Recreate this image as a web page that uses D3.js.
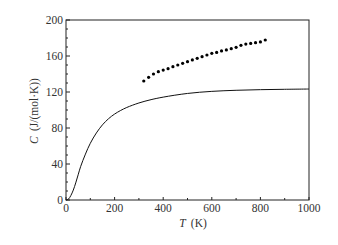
<!DOCTYPE html>
<html><head><meta charset="utf-8">
<script src="https://cdn.jsdelivr.net/npm/d3@7"></script>
<style>body{margin:0;background:#fff}svg{display:block}</style>
</head><body>
<svg id="c" width="338" height="245"></svg>
<script>
const curveT = [0,10,20,30,40,50,60,80,100,125,150,175,200,225,250,300,350,400,500,600,700,800,900,1000];
const curveC = [0,1,5,11,19,28,37,51,63,74.5,83.5,90.3,95.5,99.5,102.8,107.8,111.5,114.3,118.4,120.7,121.9,122.6,123,123.3];
const dotT = [320,340,360,380,400,420,440,460,480,500,520,540,560,580,600,620,640,660,680,700,720,740,760,780,800,820];
const dotC = [132.2,136.3,140,142.6,144.4,145.9,148.1,150,151.9,153.7,155.6,157.4,159.3,161.1,163,164,165.6,166.7,168.1,169.6,171.9,173.3,174,174.8,175.6,177.8];
const xTicks = [0,200,400,600,800,1000];
const yTicks = [0,40,80,120,160,200];

const svg = d3.select('#c');
const L=66,R=309,T=20,B=200;
const x = d3.scaleLinear().domain([0,1000]).range([L,R]);
const y = d3.scaleLinear().domain([0,200]).range([B,T]);
const font = '"Liberation Serif","Times New Roman",serif';
const txt = '#333';

const gx = svg.append('g');
gx.selectAll('line.minx').data(d3.range(100,1000,200)).join('line')
  .attr('x1',d=>x(d)).attr('x2',d=>x(d)).attr('y1',B).attr('y2',B-2)
  .attr('stroke','#222').attr('stroke-width',1);
gx.selectAll('line.majx').data(xTicks).join('line')
  .attr('x1',d=>x(d)).attr('x2',d=>x(d)).attr('y1',B).attr('y2',B-3)
  .attr('stroke','#222').attr('stroke-width',1);
gx.selectAll('line.miny').data(d3.range(10,200,10).filter(d=>d%40!==0)).join('line')
  .attr('x1',L).attr('x2',L+2).attr('y1',d=>y(d)).attr('y2',d=>y(d))
  .attr('stroke','#222').attr('stroke-width',1);
gx.selectAll('line.majy').data(yTicks).join('line')
  .attr('x1',L).attr('x2',L+4).attr('y1',d=>y(d)).attr('y2',d=>y(d))
  .attr('stroke','#222').attr('stroke-width',1);

svg.append('rect').attr('x',L).attr('y',T).attr('width',R-L).attr('height',B-T)
  .attr('fill','none').attr('stroke','#222').attr('stroke-width',1);

svg.selectAll('text.xt').data(xTicks).join('text')
  .attr('x',d=>x(d)).attr('y',B+11.5).attr('text-anchor','middle')
  .attr('font-family',font).attr('font-size',11.5).attr('fill',txt).text(d=>d);
svg.selectAll('text.yt').data(yTicks).join('text')
  .attr('x',L-3).attr('y',d=>y(d)+4).attr('text-anchor','end')
  .attr('font-family',font).attr('font-size',11.5).attr('fill',txt).text(d=>d);

const line = d3.line().x(d=>x(d[0])).y(d=>y(d[1])).curve(d3.curveCatmullRom.alpha(0.5));
svg.append('path').datum(curveT.map((t,i)=>[t,curveC[i]]))
  .attr('d',line).attr('fill','none').attr('stroke','#111').attr('stroke-width',1);

svg.selectAll('circle').data(dotT.map((t,i)=>[t,dotC[i]])).join('circle')
  .attr('cx',d=>x(d[0])).attr('cy',d=>y(d[1])).attr('r',1.6).attr('fill','#000');

const xl = svg.append('text').attr('x',193).attr('y',227).attr('text-anchor','middle')
  .attr('font-family',font).attr('font-size',11.5).attr('fill',txt);
xl.append('tspan').attr('font-style','italic').text('T');
xl.append('tspan').text('\u2009 (K)');
const yl = svg.append('text').attr('transform','translate(38,111) rotate(-90)')
  .attr('text-anchor','middle').attr('font-family',font).attr('font-size',11.5).attr('fill',txt);
yl.append('tspan').attr('font-style','italic').text('C');
yl.append('tspan').text('\u2009 (J/(mol\u00b7K))');
</script>
</body></html>
